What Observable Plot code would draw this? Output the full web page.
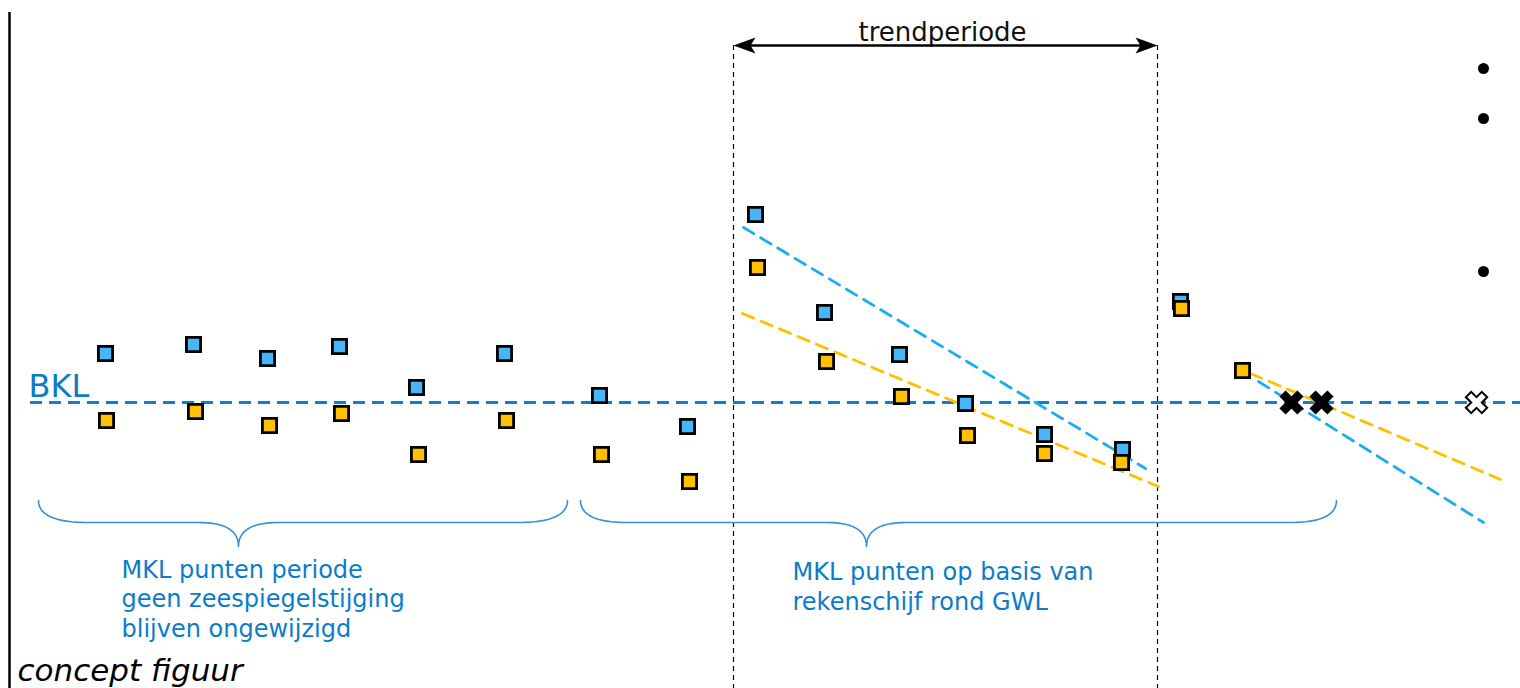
<!DOCTYPE html>
<html>
<head>
<meta charset="utf-8">
<script src="https://cdn.jsdelivr.net/npm/d3@7"></script>
<script src="https://cdn.jsdelivr.net/npm/@observablehq/plot@0.6"></script>
<style>
  html, body { margin: 0; padding: 0; background: #fff; overflow: hidden; }
  #chart svg { display: block; }
</style>
</head>
<body>
<div id="chart"></div>
<script>
// ---- data (x = time position, y = level relative to BKL) ----
const blueX = [105, 193, 267, 339, 416, 504, 599, 687, 755, 824, 899, 965, 1044, 1122, 1180];
const blueY = [49, 58, 44, 56, 15, 49, 7, -24, 188, 90, 48, -1, -32, -47, 101];
const orangeX = [106, 195, 269, 341, 418, 506, 601, 689, 757, 826, 901, 967, 1044, 1121, 1181, 1242];
const orangeY = [-18, -9, -23, -11, -52, -18, -52, -79, 135, 41, 6, -33, -51, -60, 94, 32];

const trendBlueX = [743, 1145];
const trendBlueY = [175, -66];
const trendOrangeX = [742, 1158];
const trendOrangeY = [89, -84];
const extrapBlueX = [1258, 1483];
const extrapBlueY = [21, -120];
const extrapOrangeX = [1250, 1500];
const extrapOrangeY = [29, -77];

const crossX = [1291, 1321];
const crossY = [0, 0];
const openCrossX = [1476];
const openCrossY = [0];

const bulletX = [1483, 1483, 1483];
const bulletY = [334, 284, 131];

const trendStart = 733, trendEnd = 1157;
const bklLevel = 0;

const labelTrend = "trendperiode";
const labelBKL = "BKL";
const labelLeft = ["MKL punten periode", "geen zeespiegelstijging", "blijven ongewijzigd"];
const labelRight = ["MKL punten op basis van", "rekenschijf rond GWL"];
const labelConcept = "concept figuur";

// ---- helpers ----
const pts = (xs, ys) => xs.map((x, i) => ({x, y: ys[i]}));

function quad(p0, c, p1, n = 16) {
  const out = [];
  for (let i = 0; i <= n; i++) {
    const t = i / n, u = 1 - t;
    out.push({x: u*u*p0[0] + 2*u*t*c[0] + t*t*p1[0], y: u*u*p0[1] + 2*u*t*c[1] + t*t*p1[1]});
  }
  return out;
}
function brace(x0, x1, xm, yTop, yMid, yTip, endW, midW) {
  return [
    ...quad([x0, yTop], [x0, yMid], [x0 + endW, yMid]),
    ...quad([xm - midW, yMid], [xm, yMid], [xm, yTip]),
    ...quad([xm, yTip], [xm, yMid], [xm + midW, yMid]),
    ...quad([x1 - endW, yMid], [x1, yMid], [x1, yTop])
  ];
}

// custom symbols
const boldX = {
  draw(ctx, size) {
    const w = Math.sqrt(size / 5);
    const c = [[-w/2,-1.5*w],[w/2,-1.5*w],[w/2,-w/2],[1.5*w,-w/2],[1.5*w,w/2],[w/2,w/2],
               [w/2,1.5*w],[-w/2,1.5*w],[-w/2,w/2],[-1.5*w,w/2],[-1.5*w,-w/2],[-w/2,-w/2]];
    const r = c.map(([x, y]) => [(x - y) / Math.SQRT2, (x + y) / Math.SQRT2]);
    ctx.moveTo(r[0][0], r[0][1]);
    for (let i = 1; i < r.length; i++) ctx.lineTo(r[i][0], r[i][1]);
    ctx.closePath();
  }
};
const headRight = { draw(ctx) { ctx.moveTo(0, 0); ctx.lineTo(-22, -8); ctx.lineTo(-17, 0); ctx.lineTo(-22, 8); ctx.closePath(); } };
const headLeft  = { draw(ctx) { ctx.moveTo(0, 0); ctx.lineTo(22, -8); ctx.lineTo(17, 0); ctx.lineTo(22, 8); ctx.closePath(); } };

const textBlue = "#0a7cc8";
const braceBlue = "#3a90d8";
const bklBlue = "#0d7fd0";
const trendBlue = "#1aaef0";
const sqBlue = "#46b6f8";
const sqOrange = "#ffc000";

// y range: level 402 at top (pixel 0), -286 at bottom (pixel 688)
const chart = Plot.plot({
  width: 1520,
  height: 688,
  margin: 0,
  x: {domain: [0, 1520], range: [0, 1520], axis: null},
  y: {domain: [-286, 402], range: [688, 0], axis: null},
  style: {fontFamily: "'DejaVu Sans', Verdana, sans-serif", background: "#fff"},
  marks: [
    // left frame line
    Plot.ruleX([9], {y1: 390, y2: -286, stroke: "#000", strokeWidth: 2.5}),
    // trend period guides
    Plot.ruleX([trendStart, trendEnd], {y1: 357, y2: -286, stroke: "#000", strokeWidth: 1.2, strokeDasharray: "5,4"}),
    Plot.ruleY([357], {x1: trendStart + 10, x2: trendEnd - 10, stroke: "#000", strokeWidth: 2.5}),
    Plot.dot([{x: trendEnd, y: 357}], {x: "x", y: "y", symbol: headRight, fill: "#000", stroke: "none"}),
    Plot.dot([{x: trendStart, y: 357}], {x: "x", y: "y", symbol: headLeft, fill: "#000", stroke: "none"}),
    Plot.text([labelTrend], {x: 942, y: 362, text: d => d, fontSize: 26, fill: "#111", textAnchor: "middle", lineAnchor: "bottom"}),
    // BKL line
    Plot.ruleY([bklLevel], {x1: 30, x2: 1520, stroke: bklBlue, strokeWidth: 3, strokeDasharray: "12,7"}),
    Plot.text([labelBKL], {x: 28, y: 6, text: d => d, fontSize: 32, fill: textBlue, textAnchor: "start", lineAnchor: "bottom"}),
    // trend lines
    Plot.line(pts(trendBlueX, trendBlueY), {x: "x", y: "y", stroke: trendBlue, strokeWidth: 2.8, strokeDasharray: "12,8"}),
    Plot.line(pts(trendOrangeX, trendOrangeY), {x: "x", y: "y", stroke: sqOrange, strokeWidth: 2.8, strokeDasharray: "12,8"}),
    Plot.line(pts(extrapBlueX, extrapBlueY), {x: "x", y: "y", stroke: trendBlue, strokeWidth: 2.8, strokeDasharray: "12,8"}),
    Plot.line(pts(extrapOrangeX, extrapOrangeY), {x: "x", y: "y", stroke: sqOrange, strokeWidth: 2.8, strokeDasharray: "12,8"}),
    // squares
    Plot.dot(pts(blueX, blueY), {x: "x", y: "y", symbol: "square", r: 8, fill: sqBlue, stroke: "#000", strokeWidth: 2.8}),
    Plot.dot(pts(orangeX, orangeY), {x: "x", y: "y", symbol: "square", r: 8, fill: sqOrange, stroke: "#000", strokeWidth: 2.8}),
    // crossings
    Plot.dot(pts(crossX, crossY), {x: "x", y: "y", symbol: boldX, r: 10.5, fill: "#000", stroke: "#000", strokeWidth: 0.5}),
    Plot.dot(pts(openCrossX, openCrossY), {x: "x", y: "y", symbol: boldX, r: 9.5, fill: "#fff", stroke: "#000", strokeWidth: 2}),
    // bullets
    Plot.dot(pts(bulletX, bulletY), {x: "x", y: "y", r: 5.5, fill: "#000", stroke: "none"}),
    // braces
    Plot.line(brace(38, 567, 238, -98, -120, -144, 50, 40), {x: "x", y: "y", stroke: braceBlue, strokeWidth: 1.6}),
    Plot.line(brace(580, 1336, 866, -98, -120, -144, 47, 40), {x: "x", y: "y", stroke: braceBlue, strokeWidth: 1.6}),
    // annotation texts
    Plot.text([labelLeft.join("\n")], {x: 121, y: -234, text: d => d, fontSize: 24, lineHeight: 1.22, fill: textBlue, textAnchor: "start", lineAnchor: "bottom"}),
    Plot.text([labelRight.join("\n")], {x: 792, y: -207, text: d => d, fontSize: 24, lineHeight: 1.22, fill: textBlue, textAnchor: "start", lineAnchor: "bottom"}),
    Plot.text([labelConcept], {x: 17, y: -278, text: d => d, fontSize: 31, fontStyle: "italic", fill: "#000", textAnchor: "start", lineAnchor: "bottom"})
  ]
});
document.getElementById("chart").appendChild(chart);
</script>
</body>
</html>
